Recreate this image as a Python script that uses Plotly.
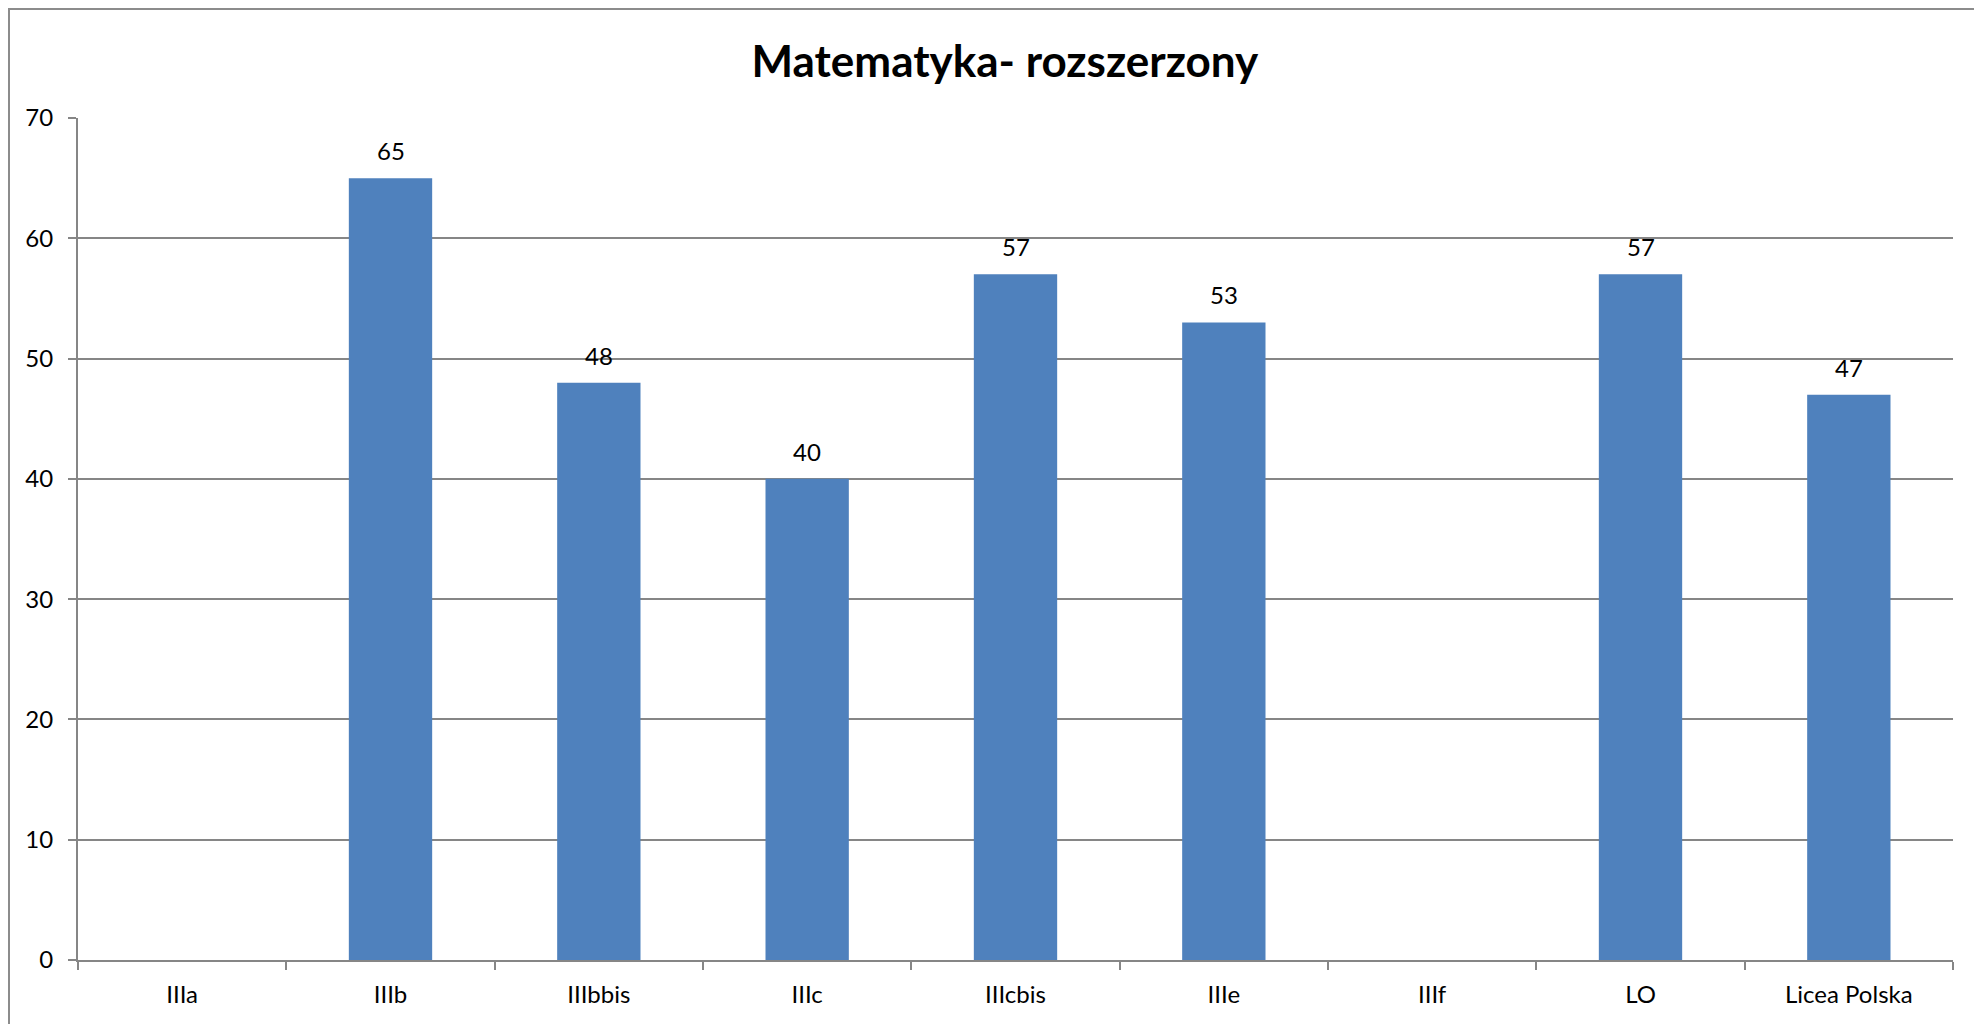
import plotly.graph_objects as go

categories = ["IIIa", "IIIb", "IIIbbis", "IIIc", "IIIcbis", "IIIe", "IIIf", "LO", "Licea Polska"]
values = [None, 65, 48, 40, 57, 53, None, 57, 47]
title_text = "Matematyka- rozszerzony"

# page body has an 8px margin; figure sized to fit the 1982x1024 window
OFF = 8
W, H = 1982 - OFF, 1024 - OFF
L, R, T, B = 78 - OFF, 1953 - OFF, 118 - OFF, 960 - OFF

FONT = "Lato, Carlito, Calibri, sans-serif"

fig = go.Figure()
fig.add_trace(go.Bar(
    x=categories, y=values,
    marker=dict(color="#4F81BD", line=dict(width=0)),
    width=0.4,
    hoverinfo="x+y",
))

annotations = []
for c, v in zip(categories, values):
    if v is None:
        continue
    annotations.append(dict(
        x=c, y=v, xref="x", yref="y", text=str(v), showarrow=False,
        yanchor="bottom", yshift=11,
        font=dict(family=FONT, size=24, color="#000000"),
    ))

pw = R - L
ph = B - T
fig.update_layout(
    width=W, height=H,
    margin=dict(l=L, r=W - R, t=T, b=H - B, pad=0),
    paper_bgcolor="white", plot_bgcolor="white",
    showlegend=False,
    bargap=0.6,
    title=dict(text="<b>" + title_text + "</b>", x=0.505, xanchor="center",
               y=1 - 54 / H, yanchor="middle", yref="container",
               font=dict(family=FONT, size=44, color="#000000")),
    font=dict(family=FONT, size=24, color="#000000"),
    xaxis=dict(
        type="category", showgrid=False, showline=True, linecolor="#868686", linewidth=2,
        ticks="outside", tickson="boundaries", ticklen=8, tickcolor="#868686", tickwidth=2,
        tickfont=dict(size=24), ticklabelstandoff=12,
        range=[-0.5, len(categories) - 0.5], fixedrange=True,
    ),
    yaxis=dict(
        range=[0, 70], dtick=10, tick0=0, showgrid=True, gridcolor="#868686", gridwidth=2,
        showline=True, linecolor="#868686", linewidth=2, zeroline=False,
        ticks="outside", ticklen=8, tickcolor="#868686", tickwidth=2,
        tickfont=dict(size=24), ticklabelstandoff=10, fixedrange=True,
    ),
    annotations=annotations,
    shapes=[dict(
        type="rect", xref="paper", yref="paper",
        x0=(1 - L) / pw, x1=(1973 - L) / pw,
        y0=(B - (H + 10)) / ph, y1=(B - 1) / ph,
        line=dict(color="#8c8c8c", width=2), fillcolor="rgba(0,0,0,0)", layer="below",
    )],
)

fig.write_html("out.html")
